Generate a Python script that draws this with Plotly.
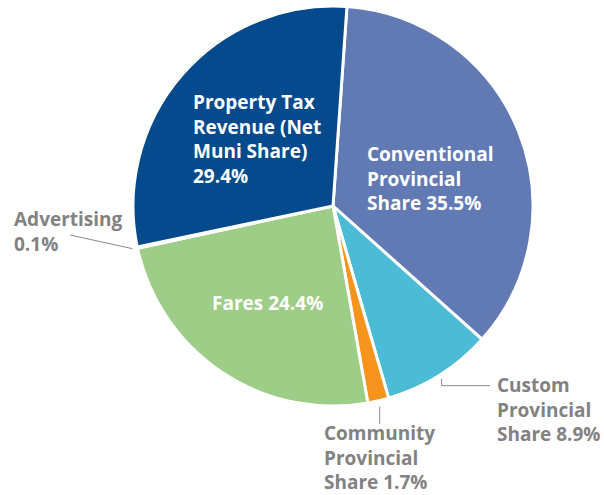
import math
import plotly.graph_objects as go

# Revenue shares (percent), in clockwise order from the top
categories = [
    "Conventional Provincial Share",
    "Custom Provincial Share",
    "Community Provincial Share",
    "Fares",
    "Advertising",
    "Property Tax Revenue (Net Muni Share)",
]
shares = [35.5, 8.9, 1.7, 24.4, 0.1, 29.4]
label_text = [
    "Conventional<br>Provincial<br>Share 35.5%",
    "Custom<br>Provincial<br>Share 8.9%",
    "Community<br>Provincial<br>Share 1.7%",
    "Fares 24.4%",
    "Advertising<br>0.1%",
    "Property Tax<br>Revenue (Net<br>Muni Share)<br>29.4%",
]
colors = ["#627ab4", "#4cbbd6", "#f7941e", "#9dcd86", "#4f70b4", "#054a8c"]

W, H = 604, 495
CX, CY, R = 333, 206, 200
ROT = 4  # degrees clockwise from 12 o'clock where the first slice starts


def px(x):
    return x / W


def py(y):
    return 1 - y / H


fig = go.Figure(
    go.Pie(
        labels=categories,
        values=shares,
        sort=False,
        direction="clockwise",
        rotation=ROT,
        marker=dict(colors=colors, line=dict(color="white", width=3)),
        textinfo="none",
        hoverinfo="label+percent",
        domain=dict(x=[px(CX - R), px(CX + R)], y=[py(CY + R), py(CY - R)]),
        showlegend=False,
    )
)

# mid-angle of every slice (degrees clockwise from top)
total = sum(shares)
mids = []
acc = 0.0
for v in shares:
    mids.append(ROT + (acc + v / 2) / total * 360)
    acc += v


def edge_point(i, extra=3):
    a = math.radians(mids[i])
    return CX + (R + extra) * math.sin(a), CY - (R + extra) * math.cos(a)


# label placement (pixel anchor of text block's left edge / vertical middle)
inside = {0: (366, 178), 3: (211, 303), 5: (192, 139)}
outside = {1: (496, 409), 2: (323, 457), 4: (13, 231)}

FONT = "Open Sans"
SIZE = 19
annotations = []
for i, (x, y) in inside.items():
    annotations.append(dict(
        x=px(x), y=py(y), xref="paper", yref="paper", xanchor="left", yanchor="middle",
        align="left", showarrow=False, text=label_text[i], borderpad=0,
        font=dict(family=FONT, size=SIZE, color="white", weight=700),
    ))
for i, (x, y) in outside.items():
    annotations.append(dict(
        x=px(x), y=py(y), xref="paper", yref="paper", xanchor="left", yanchor="middle",
        align="left", showarrow=False, text=label_text[i], borderpad=0,
        font=dict(family=FONT, size=SIZE, color="#828282", weight=700),
    ))

# leader lines from the slice edge toward the outside labels
line_style = dict(color="#8a8a8a", width=1)
shapes = []
# Advertising: short slanted line to the left
x0, y0 = edge_point(4, 5)
shapes.append(dict(type="line", xref="paper", yref="paper",
                   x0=px(x0), y0=py(y0), x1=px(70), y1=py(235), line=line_style))
# Custom: small elbow down then to the right
x0, y0 = edge_point(1, 4)
shapes.append(dict(type="path", xref="paper", yref="paper",
                   path=f"M {px(x0)},{py(y0)} L {px(x0)},{py(y0 + 7)} L {px(490)},{py(y0 + 7)}",
                   line=line_style))
# Community: vertical drop
x0, y0 = edge_point(2, 6)
shapes.append(dict(type="line", xref="paper", yref="paper",
                   x0=px(x0), y0=py(y0), x1=px(x0), y1=py(424), line=line_style))

fig.update_layout(
    width=W, height=H,
    margin=dict(l=0, r=0, t=0, b=0),
    paper_bgcolor="white", plot_bgcolor="white",
    annotations=annotations, shapes=shapes,
)

fig.write_html("out.html")
